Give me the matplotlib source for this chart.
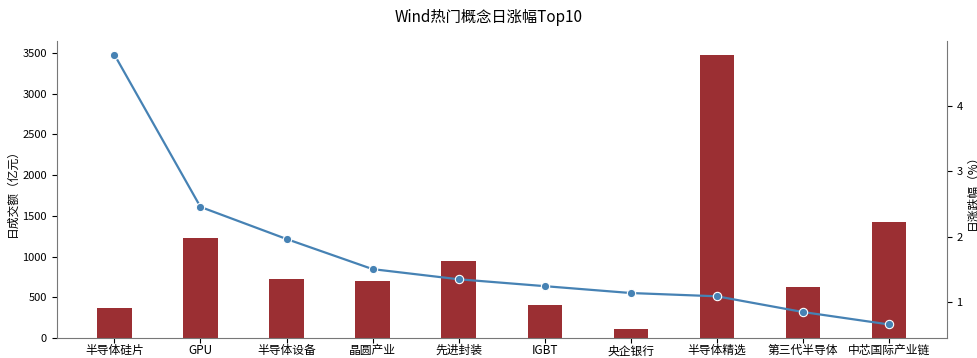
import matplotlib
matplotlib.use('Agg')
import matplotlib.pyplot as plt

plt.rcParams['font.family'] = ['Noto Sans CJK SC', 'DejaVu Sans']
plt.rcParams['axes.unicode_minus'] = False

concepts = ['半导体硅片', 'GPU', '半导体设备', '晶圆产业', '先进封装',
            'IGBT', '央企银行', '半导体精选', '第三代半导体', '中芯国际产业链']
turnover = [367, 1233, 725, 700, 946, 410, 115, 3473, 627, 1430]   # 亿元
pct_chg = [4.78, 2.455, 1.965, 1.505, 1.35, 1.245, 1.14, 1.09, 0.85, 0.66]  # %

fig = plt.figure(figsize=(9.78, 3.58), dpi=100)
ax = fig.add_axes([0.058, 0.056, 0.910, 0.829])
x = range(len(concepts))
ax.bar(x, turnover, width=0.4, color='#9b2f33')
ax.set_ylabel('日成交额（亿元）', fontsize=8.5, labelpad=3)
ax.set_xticks(list(x))
ax.set_xticklabels(concepts, fontsize=8.5)
ax.tick_params(axis='x', pad=1)
ax.tick_params(axis='y', labelsize=8)

ax2 = ax.twinx()
ax2.plot(list(x), pct_chg, color='#4682b4', lw=1.6, marker='o', ms=6,
         mec='white', mew=0.8)
ax2.set_ylabel('日涨跌幅（%）', fontsize=8.5, labelpad=2)
ax2.tick_params(axis='y', labelsize=8)

for a in (ax, ax2):
    a.spines['top'].set_visible(False)
    for s in ('left', 'right', 'bottom'):
        a.spines[s].set_color('#777777')
ax.spines['right'].set_visible(False)
ax2.spines['left'].set_visible(False)
ax2.spines['bottom'].set_visible(False)

fig.suptitle('Wind热门概念日涨幅Top10', fontsize=11, y=0.975)
fig.savefig('out.png', dpi=100)
